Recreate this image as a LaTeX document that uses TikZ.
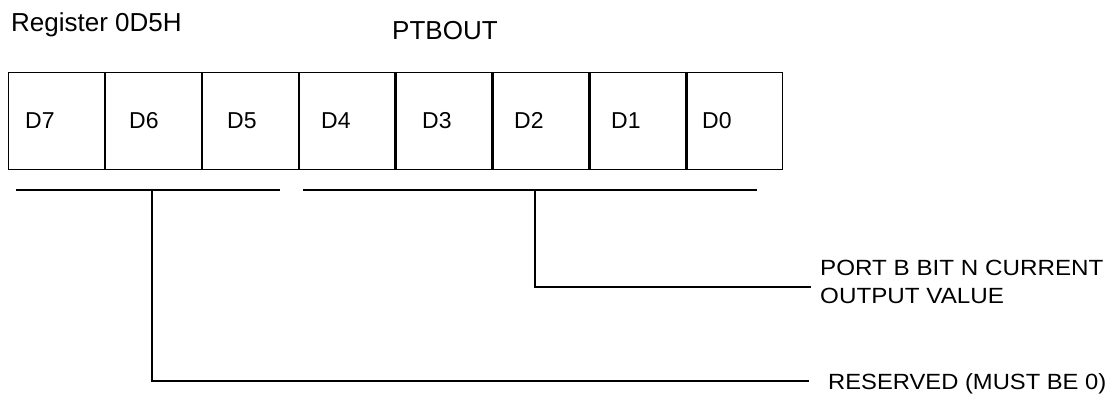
\documentclass[tikz,border=0pt]{standalone}
\usepackage{fontspec}
\setmainfont{Liberation Sans}
\begin{document}
\begin{tikzpicture}[x=1pt,y=-1pt,
  cell/.style={draw,line width=1.2pt,minimum width=95.7pt,minimum height=97pt,inner sep=0pt,anchor=north west},
  bitlabel/.style={anchor=base west,inner sep=0pt,font=\fontsize{23}{26}\selectfont},
  title/.style={anchor=base west,inner sep=0pt,font=\fontsize{26}{30}\selectfont},
  desc/.style={anchor=base west,inner sep=0pt,font=\fontsize{22}{26}\selectfont},
  wire/.style={line width=1.2pt}]
\useasboundingbox (0,0) rectangle (1109,398);
\node[title] (reg) at (11,32) {Register 0D5H};
\node[title] (name) at (392,40) {PTBOUT};
\node[cell] (c7) at (8,72) {};
\node[cell] (c6) at (c7.north east) {};
\node[cell] (c5) at (c6.north east) {};
\node[cell] (c4) at (c5.north east) {};
\node[cell] (c3) at (c4.north east) {};
\node[cell] (c2) at (c3.north east) {};
\node[cell] (c1) at (c2.north east) {};
\node[cell] (c0) at (c1.north east) {};
\node[bitlabel] (l7) at (25,129) {D7};
\node[bitlabel] (l6) at (129,129) {D6};
\node[bitlabel] (l5) at (227,129) {D5};
\node[bitlabel] (l4) at (321,129) {D4};
\node[bitlabel] (l3) at (422,129) {D3};
\node[bitlabel] (l2) at (514,129) {D2};
\node[bitlabel] (l1) at (611,129) {D1};
\node[bitlabel] (l0) at (702,129) {D0};
\coordinate (a1) at (16,190);
\coordinate (a2) at (280,190);
\coordinate (as) at (152,190);
\coordinate (b1) at (303,190);
\coordinate (b2) at (757,190);
\coordinate (bs) at (535,190);
\coordinate (be) at (811,287);
\coordinate (ae) at (809,381);
\node[desc] (d1) at (820,276) {\scalebox{1.1}[1]{PORT B BIT N CURRENT}};
\node[desc] (d2) at (820,303) {\scalebox{1.1}[1]{OUTPUT VALUE}};
\node[desc] (d3) at (828,389) {\scalebox{1.08}[1]{RESERVED (MUST BE 0)}};
\draw[wire] (a1) -- (a2);
\draw[wire] (b1) -- (b2);
\draw[wire] (bs) |- (be);
\draw[wire] (as) |- (ae);
\end{tikzpicture}
\end{document}
